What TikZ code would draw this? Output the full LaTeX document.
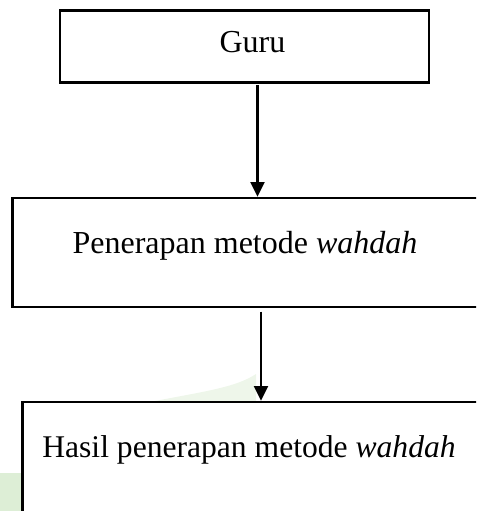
\documentclass[tikz,border=0pt]{standalone}
\usepackage{fontspec}
\setmainfont{Liberation Serif}
\usetikzlibrary{arrows.meta}
\definecolor{wmgreen}{RGB}{221,238,214}
\begin{document}
\begin{tikzpicture}[x=0.75pt,y=-0.75pt,
  box/.style={draw=black, line width=1.8pt, inner sep=0pt, rectangle},
  lbl/.style={anchor=base, inner sep=0pt, font=\fontsize{24}{28}\selectfont},
  arr/.style={line width=1.6pt, -{Triangle[width=10.5pt,length=11pt]}}]
  \useasboundingbox (0,0) rectangle (476,511);
  \clip (0,0) rectangle (476,511);
  % faint background shading at the lower left
  \fill[wmgreen] (0,473) rectangle (22,511);
  \fill[wmgreen, opacity=0.5] (150,402) .. controls (200,392) and (235,388) .. (256,374) -- (256,402) -- cycle;
  % boxes
  \node[box, minimum width=276.75pt, minimum height=54pt] (b1) at (244.5,46.5) {};
  \node[box, minimum width=365.6pt, minimum height=81.75pt] (b2) at (256.25,252.5) {};
  \node[box, minimum width=358.1pt, minimum height=103.5pt] (b3) at (261.25,471) {};
  % labels
  \node[lbl] (t1) at (252.5,52) {Guru};
  \node[lbl] (t2) at (245,253) {Penerapan metode \textit{wahdah}};
  \node[lbl] (t3) at (249,457) {\fontsize{23.7}{28}\selectfont Hasil penerapan metode \textit{wahdah}};
  % connectors
  \coordinate (a1) at (257.5,0);
  \coordinate (a2) at (261,0);
  \draw[arr, shorten <=1pt] (a1 |- b1.south) -- (a1 |- b2.north);
  \draw[arr, shorten <=2.5pt] (a2 |- b2.south) -- (a2 |- b3.north);
\end{tikzpicture}
\end{document}
